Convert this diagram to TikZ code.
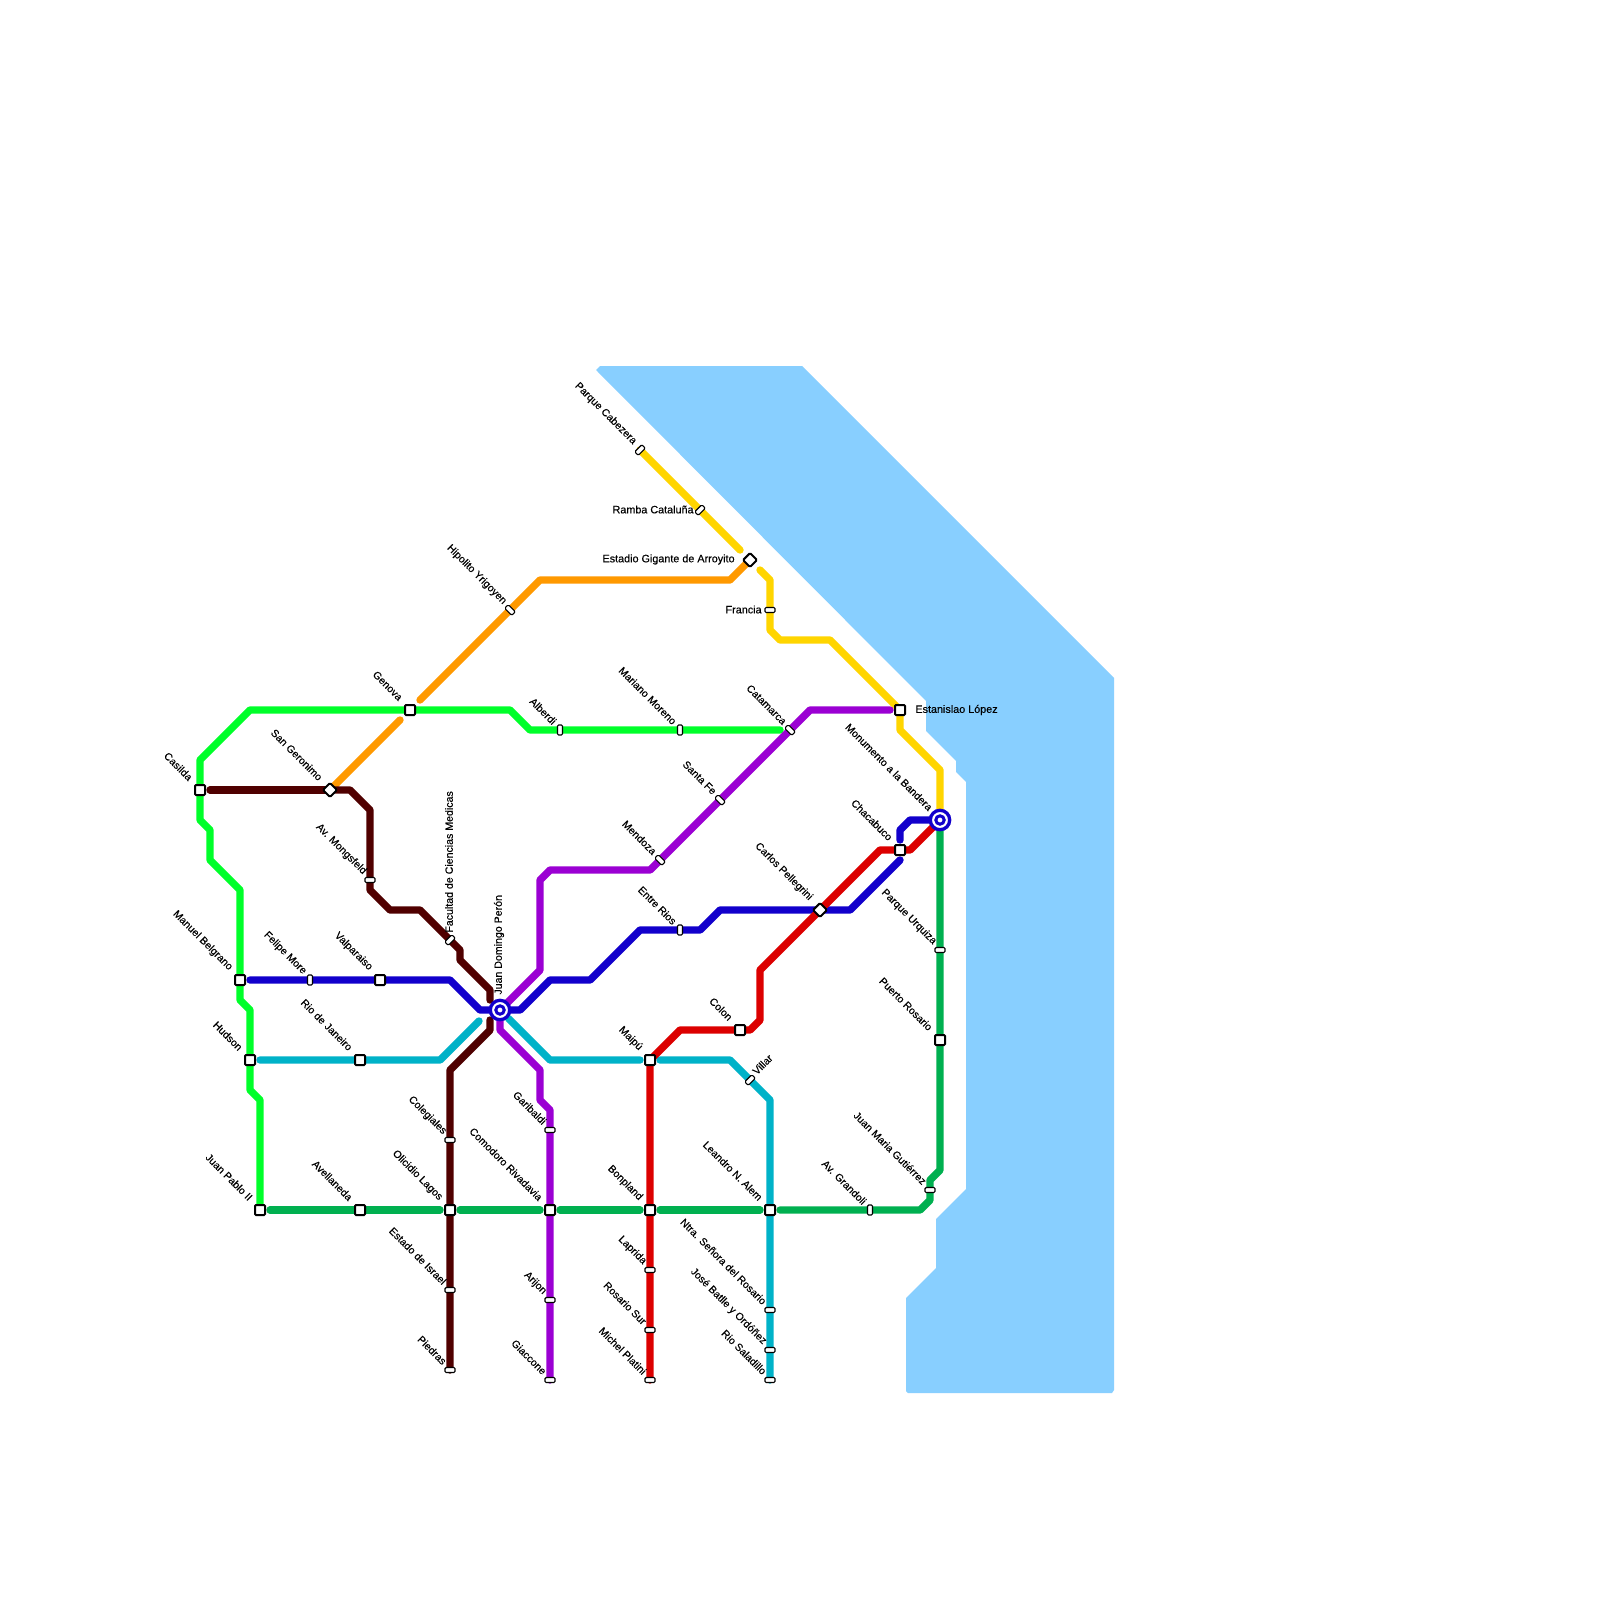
\documentclass[tikz,border=0pt]{standalone}
\usepackage{fontspec}
\setmainfont[FakeBold=0.25]{Liberation Sans}
\usetikzlibrary{calc}
\pgfdeclarelayer{sealayer}
\pgfdeclarelayer{linelayer}
\pgfsetlayers{sealayer,linelayer,main}
\definecolor{seablue}{HTML}{88CFFF}
\definecolor{cyellow}{HTML}{FFD500}
\definecolor{corange}{HTML}{FF9900}
\definecolor{cbright}{HTML}{00FF2A}
\definecolor{cmaroon}{HTML}{500000}
\definecolor{cblue}{HTML}{1200CC}
\definecolor{cpurple}{HTML}{9B00D3}
\definecolor{cteal}{HTML}{00B2C8}
\definecolor{cred}{HTML}{DC0000}
\definecolor{cgreen}{HTML}{00B050}
\tikzset{
  metro/.style={line width=3.7pt,line cap=round,line join=round},
  gapA/.style={shorten <=5pt},
  gapB/.style={shorten >=5pt},
  gapDA/.style={shorten <=7.07pt},
  gapDB/.style={shorten >=7.07pt},
  sq/.style={draw=black,fill=white,line width=1pt,rectangle,rounded corners=0.5pt,minimum size=5pt,inner sep=0pt},
  dia/.style={sq,minimum size=4.9pt,rotate=45},
  pill/.style={draw=black,fill=white,line width=0.55pt,rectangle,rounded corners=0.6pt,minimum width=5pt,minimum height=2.5pt,inner sep=0pt},
  pillH/.style={pill},
  pillV/.style={pill,rotate=90},
  pillD/.style={pill,rotate=45},
  pillB/.style={pill,rotate=-45},
  hubout/.style={circle,draw=cblue,fill=white,line width=1.65pt,minimum size=9.7pt,inner sep=0pt},
  hubin/.style={circle,draw=cblue,fill=white,line width=1.5pt,minimum size=4.2pt,inner sep=0pt},
  lab/.style={font=\fontsize{5.4pt}{6pt}\selectfont,inner sep=0pt,text=black},
  vertlab/.style={font=\fontsize{5.3pt}{6pt}\selectfont,inner sep=0pt,text=black},
  diaglab/.style={font=\fontsize{5.25pt}{6pt}\selectfont,inner sep=0pt,text=black},
}
\newcommand{\nwl}[4]{\node[diaglab,rotate=-45,anchor=east] (#1L) at ($(#1)+(#3,#4)$) {#2};}
\begin{document}
\begin{tikzpicture}[x=0.5pt,y=-0.5pt]
\useasboundingbox (0,0) rectangle (1600,1600);
\begin{pgfonlayer}{sealayer}
\fill[white] (0,0) rectangle (1600,1600);
\fill[seablue] (600,366) -- (802,366) -- (1114,678) -- (1114,1390) -- (1112,1393) -- (908,1393) -- (906,1391) -- (906,1298) -- (936,1268) -- (936,1219) -- (966,1189) -- (966,782) -- (956,772) -- (956,761) -- (926,731) -- (926,701) -- (596,370) -- cycle;
\end{pgfonlayer}

% stations
\node[sq] (casilda) at (200,790) {};
\node[sq] (genova) at (410,710) {};
\node[sq] (belgrano) at (240,980) {};
\node[sq] (hudson) at (250,1060) {};
\node[sq] (juanpablo) at (260,1210) {};
\node[sq] (valparaiso) at (380,980) {};
\node[sq] (riojaneiro) at (360,1060) {};
\node[sq] (avellaneda) at (360,1210) {};
\node[sq] (lagos) at (450,1210) {};
\node[sq] (comodoro) at (550,1210) {};
\node[sq] (bonpland) at (650,1210) {};
\node[sq] (maipu) at (650,1060) {};
\node[sq] (colon) at (740,1030) {};
\node[sq] (leandro) at (770,1210) {};
\node[sq] (chacabuco) at (900,850) {};
\node[sq] (lopez) at (900,710) {};
\node[sq] (puerto) at (940,1040) {};
\node[dia] (geronimo) at (330,790) {};
\node[dia] (gigante) at (750,560) {};
\node[dia] (pellegrini) at (820,910) {};
\node[pillD] (cabezera) at (640,450) {};
\node[pillD] (ramba) at (700,510) {};
\node[pillH] (francia) at (770,610) {};
\node[pillB] (yrigoyen) at (510,610) {};
\node[pillV] (alberdi) at (560,730) {};
\node[pillV] (moreno) at (680,730) {};
\node[pillB] (catamarca) at (790,730) {};
\node[pillB] (santafe) at (720,800) {};
\node[pillB] (mendoza) at (660,860) {};
\node[pillV] (entrerios) at (680,930) {};
\node[pillH] (mongsfeld) at (370,880) {};
\node[pillD] (facultad) at (450,940) {};
\node[pillV] (felipe) at (310,980) {};
\node[pillH] (colegiales) at (450,1140) {};
\node[pillH] (israel) at (450,1290) {};
\node[pillH] (piedras) at (450,1370) {};
\node[pillH] (garibaldi) at (550,1130) {};
\node[pillH] (arijon) at (550,1300) {};
\node[pillH] (giaccone) at (550,1380) {};
\node[pillH] (laprida) at (650,1270) {};
\node[pillH] (rosariosur) at (650,1330) {};
\node[pillH] (platini) at (650,1380) {};
\node[pillD] (villar) at (750,1080) {};
\node[pillH] (senora) at (770,1310) {};
\node[pillH] (batlle) at (770,1350) {};
\node[pillH] (saladillo) at (770,1380) {};
\node[pillV] (grandoli) at (870,1210) {};
\node[pillH] (gutierrez) at (930,1190) {};
\node[pillH] (urquiza) at (940,950) {};
\node[hubout] (peron) at (500,1010) {};
\node[hubin] (peronI) at (500,1010) {};
\node[hubout] (monumento) at (940,820) {};
\node[hubin] (monumentoI) at (940,820) {};

\coordinate (maroonA) at (490,1000);
\coordinate (maroonB) at (490,1020);
\coordinate (tealA) at (479,1021);
\coordinate (blueEnd) at (900,860);

% lines
\begin{pgfonlayer}{linelayer}
\draw[metro,cbright,gapB] (juanpablo.center) -- (260,1100) -- (250,1090) -- (hudson.center) -- (250,1010) -- (240,1000) -- (belgrano.center) -- (240,890) -- (210,860) -- (210,830) -- (200,820) -- (casilda.center) -- (200,760) -- (250,710) -- (genova.center) -- (510,710) -- (530,730) -- (alberdi.center) -- (moreno.center) -- (catamarca.center);
\draw[metro,cgreen,gapA,gapB] (juanpablo.center) -- (avellaneda.center) -- (lagos.center);
\draw[metro,cgreen,gapA,gapB] (lagos.center) -- (comodoro.center);
\draw[metro,cgreen,gapA,gapB] (comodoro.center) -- (bonpland.center);
\draw[metro,cgreen,gapA,gapB] (bonpland.center) -- (leandro.center);
\draw[metro,cgreen,gapA] (leandro.center) -- (grandoli.center) -- (920,1210) -- (930,1200) -- (gutierrez.center) -- (930,1180) -- (940,1170) -- (puerto.center) -- (urquiza.center) -- (monumento.center);
\draw[metro,cyellow,gapDB] (cabezera.center) -- (ramba.center) -- (gigante.center);
\draw[metro,cyellow,gapDA] (gigante.center) -- (770,580) -- (francia.center) -- (770,630) -- (780,640) -- (830,640) -- (lopez.center) -- (900,730) -- (940,770) -- (monumento.center);
\draw[metro,corange,gapDB] (gigante.center) -- (730,580) -- (540,580) -- (yrigoyen.center) -- (genova.center);
\draw[metro,corange,gapDA] (genova.center) -- (geronimo.center);
\draw[metro,cmaroon,gapA] (casilda.center) -- (geronimo.center);
\draw[metro,cmaroon] (geronimo.center) -- (350,790) -- (370,810) -- (mongsfeld.center) -- (370,890) -- (390,910) -- (420,910) -- (facultad.center) -- (460,950) -- (460,960) -- (490,990) -- (maroonA);
\draw[metro,cmaroon] (maroonB) -- (490,1030) -- (450,1070) -- (colegiales.center) -- (lagos.center) -- (israel.center) -- (piedras.center);
\draw[metro,cblue,gapA] (belgrano.center) -- (felipe.center) -- (valparaiso.center) -- (450,980) -- (480,1010) -- (peron.center) -- (520,1010) -- (550,980) -- (590,980) -- (640,930) -- (entrerios.center) -- (700,930) -- (720,910) -- (pellegrini.center) -- (850,910) -- (blueEnd);
\draw[metro,cblue,gapA] (chacabuco.center) -- (900,830) -- (910,820) -- (monumento.center);
\draw[metro,cpurple,gapA] (lopez.center) -- (810,710) -- (catamarca.center) -- (santafe.center) -- (mendoza.center) -- (650,870) -- (550,870) -- (540,880) -- (540,970) -- (peron.center) -- (500,1030) -- (540,1070) -- (540,1100) -- (550,1110) -- (garibaldi.center) -- (comodoro.center) -- (arijon.center) -- (giaccone.center);
\draw[metro,cteal,gapA] (hudson.center) -- (riojaneiro.center) -- (440,1060) -- (tealA);
\draw[metro,cteal,shorten <=6pt,gapB] (peron.center) -- (550,1060) -- (maipu.center);
\draw[metro,cteal,gapA] (maipu.center) -- (730,1060) -- (villar.center) -- (770,1100) -- (leandro.center) -- (senora.center) -- (batlle.center) -- (saladillo.center);
\draw[metro,cred] (monumento.center) -- (910,850) -- (chacabuco.center) -- (880,850) -- (pellegrini.center) -- (760,970) -- (760,1020) -- (750,1030) -- (colon.center) -- (680,1030) -- (maipu.center) -- (bonpland.center) -- (laprida.center) -- (rosariosur.center) -- (platini.center);
\end{pgfonlayer}

% labels
\nwl{casilda}{Casilda}{-9}{-11}
\nwl{genova}{Genova}{-9}{-11}
\nwl{belgrano}{Manuel Belgrano}{-9}{-11}
\nwl{hudson}{Hudson}{-9}{-11}
\nwl{juanpablo}{Juan Pablo II}{-9}{-11}
\nwl{valparaiso}{Valparaiso}{-9}{-11}
\nwl{riojaneiro}{Rio de Janeiro}{-9}{-11}
\nwl{avellaneda}{Avellaneda}{-9}{-11}
\nwl{lagos}{Olicidio Lagos}{-9}{-11}
\nwl{comodoro}{Comodoro Rivadavia}{-9}{-11}
\nwl{bonpland}{Bonpland}{-9}{-11}
\nwl{maipu}{Maipú}{-9}{-11}
\nwl{colon}{Colon}{-9}{-11}
\nwl{leandro}{Leandro N. Alem}{-9}{-11}
\nwl{chacabuco}{Chacabuco}{-9}{-11}
\nwl{puerto}{Puerto Rosario}{-9}{-11}
\nwl{geronimo}{San Geronimo}{-9}{-11}
\nwl{pellegrini}{Carlos Pellegrini}{-9}{-11}
\nwl{cabezera}{Parque Cabezera}{-5}{-7}
\nwl{yrigoyen}{Hipolito Yrigoyen}{-5}{-7}
\nwl{alberdi}{Alberdi}{-5}{-7}
\nwl{moreno}{Mariano Moreno}{-5}{-7}
\nwl{catamarca}{Catamarca}{-5}{-7}
\nwl{santafe}{Santa Fe}{-5}{-7}
\nwl{mendoza}{Mendoza}{-5}{-7}
\nwl{entrerios}{Entre Rios}{-5}{-7}
\nwl{mongsfeld}{Av. Mongsfeld}{-5}{-7}
\nwl{felipe}{Felipe More}{-5}{-7}
\nwl{colegiales}{Colegiales}{-5}{-7}
\nwl{israel}{Estado de Israel}{-5}{-7}
\nwl{piedras}{Piedras}{-5}{-7}
\nwl{garibaldi}{Garibaldi}{-5}{-7}
\nwl{arijon}{Arijon}{-5}{-7}
\nwl{giaccone}{Giaccone}{-5}{-7}
\nwl{laprida}{Laprida}{-5}{-7}
\nwl{rosariosur}{Rosario Sur}{-5}{-7}
\nwl{platini}{Michel Platini}{-5}{-7}
\nwl{senora}{Ntra. Señora del Rosario}{-5}{-7}
\nwl{batlle}{José Batlle y Ordóñez}{-5}{-7}
\nwl{saladillo}{Rio Saladillo}{-5}{-7}
\nwl{grandoli}{Av. Grandoli}{-5}{-7}
\nwl{gutierrez}{Juan Maria Gutiérrez}{-5}{-7}
\nwl{urquiza}{Parque Urquiza}{-5}{-7}
\nwl{monumento}{Monumento a la Bandera}{-9}{-11}
\node[lab,anchor=east] (rambaL) at ($(ramba)+(-6,-0.5)$) {Ramba Cataluña};
\node[lab,anchor=east] (giganteL) at ($(gigante)+(-15,-0.5)$) {Estadio Gigante de Arroyito};
\node[lab,anchor=east] (franciaL) at ($(francia)+(-8,-0.5)$) {Francia};
\node[lab,anchor=west] (lopezL) at ($(lopez)+(15,0)$) {Estanislao López};
\node[vertlab,rotate=90,anchor=west] (facultadL) at ($(facultad)+(-1,-7)$) {Facultad de Ciencias Medicas};
\node[vertlab,rotate=90,anchor=west] (peronL) at ($(peron)+(-1,-15)$) {Juan Domingo Perón};
\node[diaglab,rotate=45,anchor=west] (villarL) at ($(villar)+(4,-7)$) {Villar};
\end{tikzpicture}
\end{document}
